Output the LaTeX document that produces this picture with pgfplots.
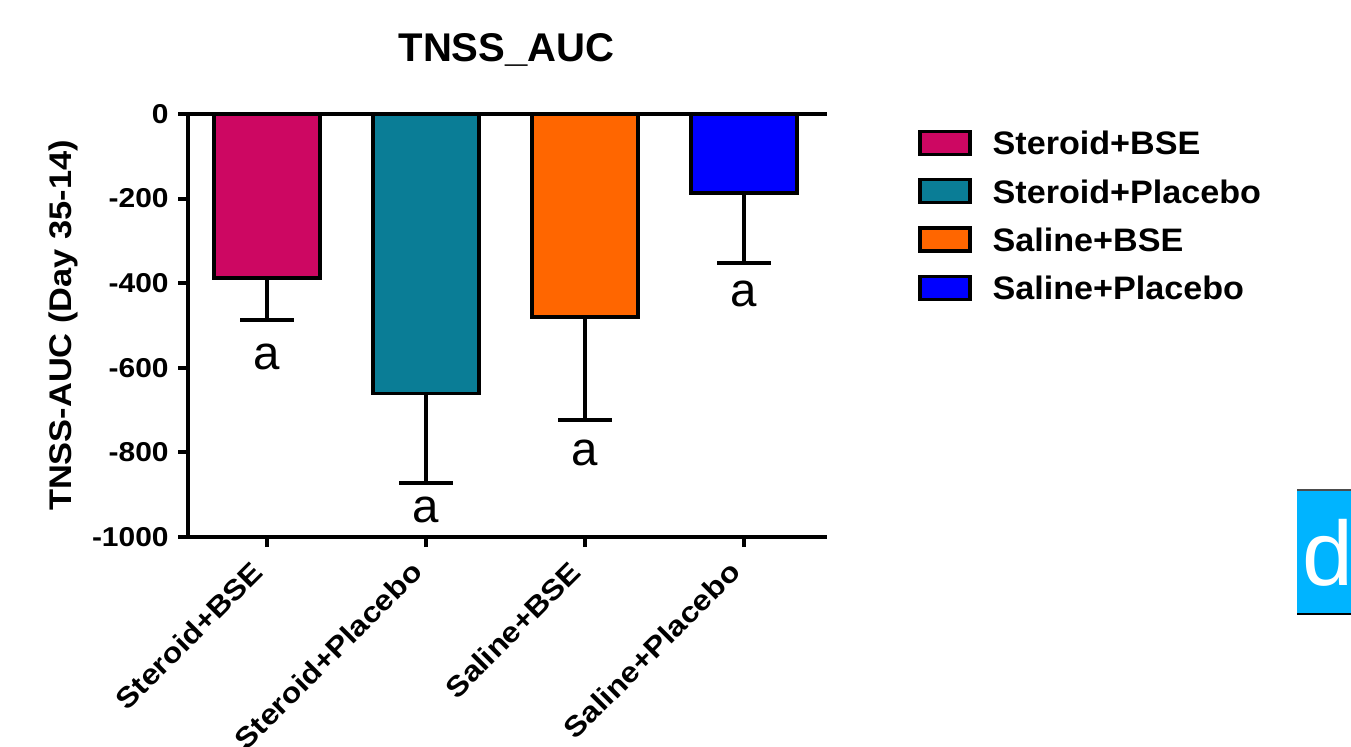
\documentclass[border=0pt]{standalone}
\usepackage{pgfplots}
\pgfplotsset{compat=1.18}
\usepackage{fontspec}
\setmainfont{Liberation Sans}
\newfontfamily\tickf[FakeStretch=1.1]{Liberation Sans}
\newfontfamily\xtickf[FakeStretch=1.12]{Liberation Sans}
\newfontfamily\legf[FakeStretch=1.05]{Liberation Sans}
\definecolor{cSB}{RGB}{205,7,98}
\definecolor{cSP}{RGB}{10,125,150}
\definecolor{cNB}{RGB}{255,102,0}
\definecolor{cNP}{RGB}{0,0,255}
\definecolor{cBox}{RGB}{0,180,255}
\begin{document}
\begin{tikzpicture}
\path[use as bounding box] (0,0) rectangle (27.02,14.92);
\clip (0,0) rectangle (27.02,14.92);
\begin{axis}[
  at={(3.76cm,4.18cm)}, anchor=south west,
  scale only axis, width=12.74cm, height=8.46cm,
  xmin=-0.497, xmax=3.509, ymin=-1000, ymax=0,
  axis x line*=bottom, axis y line*=left,
  axis line style={-, line width=0.09cm, line cap=rect},
  tick align=outside, major tick length=0.2cm,
  every tick/.style={black, line width=0.08cm},
  xtick={0,1,2,3},
  xticklabels={Steroid+BSE,Steroid+Placebo,Saline+BSE,Saline+Placebo},
  xticklabel style={rotate=45, anchor=east, inner sep=0pt, xshift=-0.405cm, yshift=-0.15cm,
    font={\xtickf\bfseries\fontsize{16.2}{18}\selectfont}},
  ytick={-1000,-800,-600,-400,-200,0},
  yticklabels={-1000,-800,-600,-400,-200,0},
  yticklabel style={font={\tickf\bfseries\fontsize{15.5}{17}\selectfont}, inner sep=0pt, xshift=-0.18cm},
  ylabel={TNSS-AUC (Day 35-14)},
  ylabel style={at={(axis description cs:-0.196,0.5)}, anchor=center,
    font={\tickf\bfseries\fontsize{17.8}{20}\selectfont}},
  title={TNSS\_AUC},
  title style={at={(axis description cs:0.5,1.126)}, anchor=center,
    font={\bfseries\fontsize{22.8}{26}\selectfont}},
  ybar, bar width=2.12cm,
  legend style={at={(axis description cs:1.146,0.9633)}, anchor=north west,
    draw=none, fill=none, inner sep=0pt, row sep=0.44cm,
    nodes={inner sep=0pt, text depth=0pt},
    font={\legf\bfseries\fontsize{18.5}{20}\selectfont}},
  legend cell align=left,
  legend image code/.code={\draw[#1, draw=black, line width=0.066cm] (0cm,-0.23cm) rectangle (1.0cm,0.23cm); \path (1.42cm,0cm);},
  clip=false,
]
\addplot[fill=cSB, draw=black, line width=0.065cm, bar shift=0pt,
  error bars/.cd, y dir=minus, y explicit,
  error bar style={line width=0.08cm, black},
  error mark options={rotate=90, mark size=0.534cm, line width=0.08cm, black}]
  coordinates {(0,-388) -= (0,99)};
\addplot[fill=cSP, draw=black, line width=0.065cm, bar shift=0pt,
  error bars/.cd, y dir=minus, y explicit,
  error bar style={line width=0.08cm, black},
  error mark options={rotate=90, mark size=0.534cm, line width=0.08cm, black}]
  coordinates {(1,-660) -= (0,212)};
\addplot[fill=cNB, draw=black, line width=0.065cm, bar shift=0pt,
  error bars/.cd, y dir=minus, y explicit,
  error bar style={line width=0.08cm, black},
  error mark options={rotate=90, mark size=0.534cm, line width=0.08cm, black}]
  coordinates {(2,-480) -= (0,243)};
\addplot[fill=cNP, draw=black, line width=0.065cm, bar shift=0pt,
  error bars/.cd, y dir=minus, y explicit,
  error bar style={line width=0.08cm, black},
  error mark options={rotate=90, mark size=0.534cm, line width=0.08cm, black}]
  coordinates {(3,-187) -= (0,165)};
\legend{Steroid+BSE,Steroid+Placebo,Saline+BSE,Saline+Placebo}
\draw[line width=0.09cm, line cap=rect] (rel axis cs:0,1) -- (rel axis cs:1,1);
\begin{scope}[every node/.style={font=\fontsize{27}{30}\selectfont, anchor=base, inner sep=0pt}]
\node at (axis cs:0,-603) {a};
\node at (axis cs:1,-965) {a};
\node at (axis cs:2,-832) {a};
\node at (axis cs:3,-456) {a};
\end{scope}
\end{axis}
\fill[cBox] (25.94,2.64) rectangle (27.02,5.12);
\draw[black!70, line width=0.04cm] (25.94,5.12) -- (27.02,5.12);
\draw[black, line width=0.05cm] (25.94,2.64) -- (27.02,2.64);
\node[text=white, font=\fontsize{52}{56}\selectfont, inner sep=0pt] at (26.55,3.86) {d};
\end{tikzpicture}
\end{document}
